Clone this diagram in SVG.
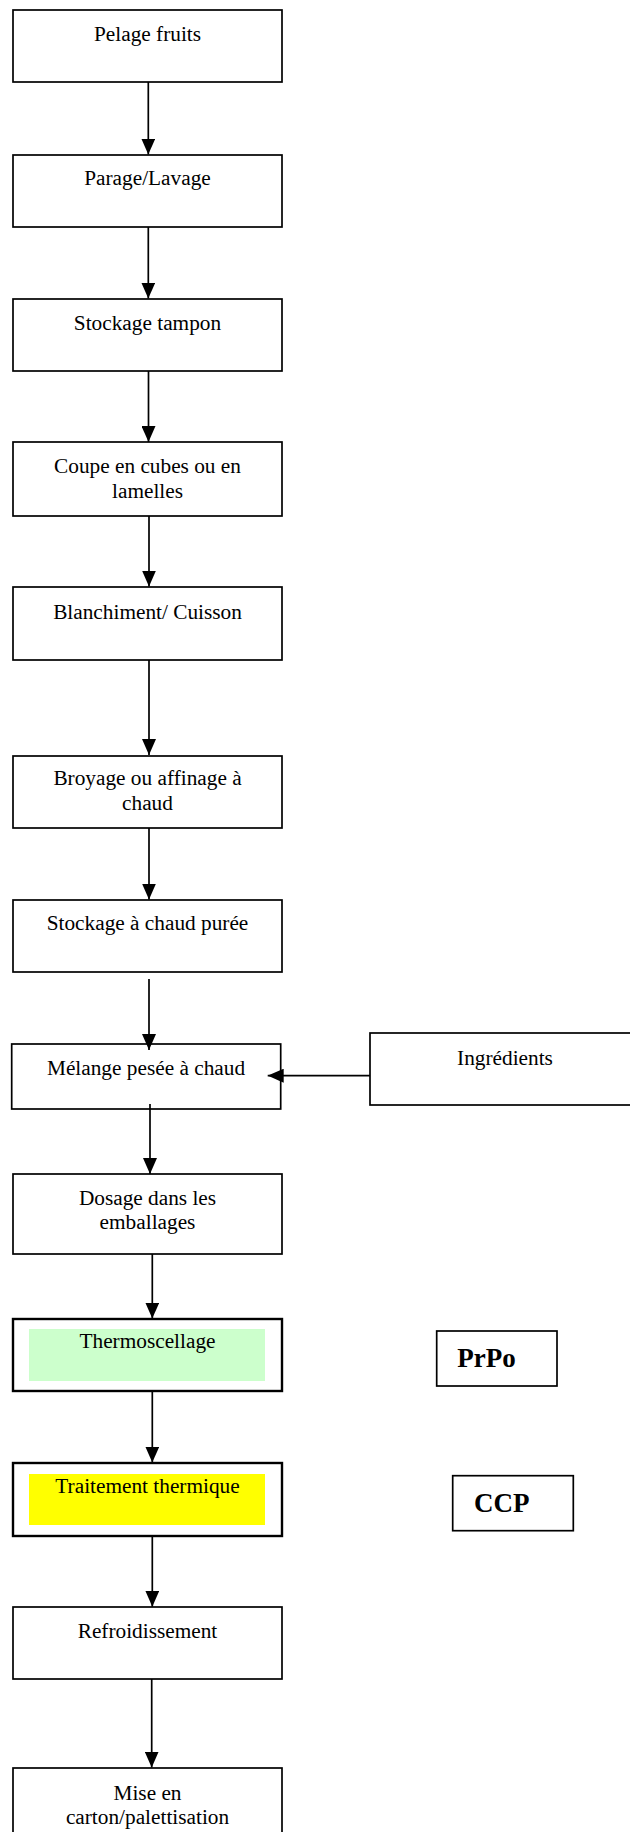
<svg xmlns="http://www.w3.org/2000/svg" width="630" height="1832" viewBox="0 0 630 1832">
  <style>
    .box { fill: #ffffff; stroke: #000000; stroke-width: 1.7; }
    .boxk { fill: #ffffff; stroke: #000000; stroke-width: 2.4; }
    .lbl { font-family: "Liberation Serif", "Times New Roman", serif; font-size: 21.3px; fill: #000000; text-anchor: middle; }
    .tag { font-family: "Liberation Serif", "Times New Roman", serif; font-size: 27px; font-weight: bold; fill: #000000; }
    .flow { fill: none; stroke: #000000; stroke-width: 1.7; }
  </style>
  <defs>
    <marker id="arrow" viewBox="0 0 16 14" refX="16" refY="7" markerWidth="16" markerHeight="14" markerUnits="userSpaceOnUse" orient="auto">
      <path d="M0,0 L16,7 L0,14 Z" fill="#000000"/>
    </marker>
  </defs>
  <rect width="630" height="1832" fill="#ffffff"/>

  <g id="pelage">
    <rect class="box" x="13" y="10" width="269" height="72"/>
    <text class="lbl" x="147.5" y="41">Pelage fruits</text>
  </g>
  <g id="parage">
    <rect class="box" x="13" y="155" width="269" height="72"/>
    <text class="lbl" x="147.5" y="185">Parage/Lavage</text>
  </g>
  <g id="stockage-tampon">
    <rect class="box" x="13" y="299" width="269" height="72"/>
    <text class="lbl" x="147.5" y="330">Stockage tampon</text>
  </g>
  <g id="coupe">
    <rect class="box" x="13" y="442" width="269" height="74"/>
    <text class="lbl" x="147.5" y="473">Coupe en cubes ou en</text>
    <text class="lbl" x="147.5" y="498">lamelles</text>
  </g>
  <g id="blanchiment">
    <rect class="box" x="13" y="587" width="269" height="73"/>
    <text class="lbl" x="147.5" y="619">Blanchiment/ Cuisson</text>
  </g>
  <g id="broyage">
    <rect class="box" x="13" y="756" width="269" height="72"/>
    <text class="lbl" x="147.5" y="785">Broyage ou affinage à</text>
    <text class="lbl" x="147.5" y="810">chaud</text>
  </g>
  <g id="stockage-chaud">
    <rect class="box" x="13" y="900" width="269" height="72"/>
    <text class="lbl" x="147.5" y="930">Stockage à chaud purée</text>
  </g>
  <g id="melange">
    <rect class="box" x="11.7" y="1044" width="269" height="65"/>
    <text class="lbl" x="146" y="1075">Mélange pesée à chaud</text>
  </g>
  <g id="ingredients">
    <rect class="box" x="370" y="1033" width="270" height="72"/>
    <text class="lbl" x="505" y="1065">Ingrédients</text>
  </g>
  <g id="dosage">
    <rect class="box" x="13" y="1174" width="269" height="80"/>
    <text class="lbl" x="147.5" y="1205">Dosage dans les</text>
    <text class="lbl" x="147.5" y="1229">emballages</text>
  </g>
  <g id="thermoscellage">
    <rect class="boxk" x="13" y="1319" width="269" height="72"/>
    <rect x="29" y="1329" width="236" height="52" fill="#ccffcc"/>
    <text class="lbl" x="147.5" y="1348">Thermoscellage</text>
  </g>
  <g id="traitement">
    <rect class="boxk" x="13" y="1463" width="269" height="73"/>
    <rect x="29" y="1474" width="236" height="51" fill="#ffff00"/>
    <text class="lbl" x="147.5" y="1493">Traitement thermique</text>
  </g>
  <g id="refroidissement">
    <rect class="box" x="13" y="1607" width="269" height="72"/>
    <text class="lbl" x="147.5" y="1638">Refroidissement</text>
  </g>
  <g id="mise-en-carton">
    <rect class="box" x="13" y="1768" width="269" height="80"/>
    <text class="lbl" x="147.5" y="1800">Mise en</text>
    <text class="lbl" x="147.5" y="1824">carton/palettisation</text>
  </g>
  <g id="prpo">
    <rect class="box" x="436.7" y="1331" width="120.3" height="55"/>
    <text class="tag" x="457.3" y="1367">PrPo</text>
  </g>
  <g id="ccp">
    <rect class="box" x="452.7" y="1475.7" width="120.6" height="55"/>
    <text class="tag" x="474" y="1511.7">CCP</text>
  </g>

  <!-- flow arrows, drawn over the boxes -->
  <g id="connectors">
    <line class="flow" x1="148.3" y1="82" x2="148.3" y2="154.5" marker-end="url(#arrow)"/>
    <line class="flow" x1="148.3" y1="227" x2="148.3" y2="298.5" marker-end="url(#arrow)"/>
    <line class="flow" x1="148.5" y1="371" x2="148.5" y2="442" marker-end="url(#arrow)"/>
    <line class="flow" x1="149" y1="516" x2="149" y2="586.5" marker-end="url(#arrow)"/>
    <line class="flow" x1="149" y1="660" x2="149" y2="755" marker-end="url(#arrow)"/>
    <line class="flow" x1="149" y1="828" x2="149" y2="899.5" marker-end="url(#arrow)"/>
    <line class="flow" x1="149" y1="979" x2="149" y2="1050" marker-end="url(#arrow)"/>
    <line class="flow" x1="370" y1="1075.7" x2="267.7" y2="1075.7" marker-end="url(#arrow)"/>
    <line class="flow" x1="150" y1="1104" x2="150" y2="1174" marker-end="url(#arrow)"/>
    <line class="flow" x1="152.3" y1="1254" x2="152.3" y2="1318.5" marker-end="url(#arrow)"/>
    <line class="flow" x1="152.3" y1="1391" x2="152.3" y2="1462.5" marker-end="url(#arrow)"/>
    <line class="flow" x1="152.3" y1="1536" x2="152.3" y2="1606.7" marker-end="url(#arrow)"/>
    <line class="flow" x1="151.7" y1="1679" x2="151.7" y2="1767.5" marker-end="url(#arrow)"/>
  </g>
</svg>
